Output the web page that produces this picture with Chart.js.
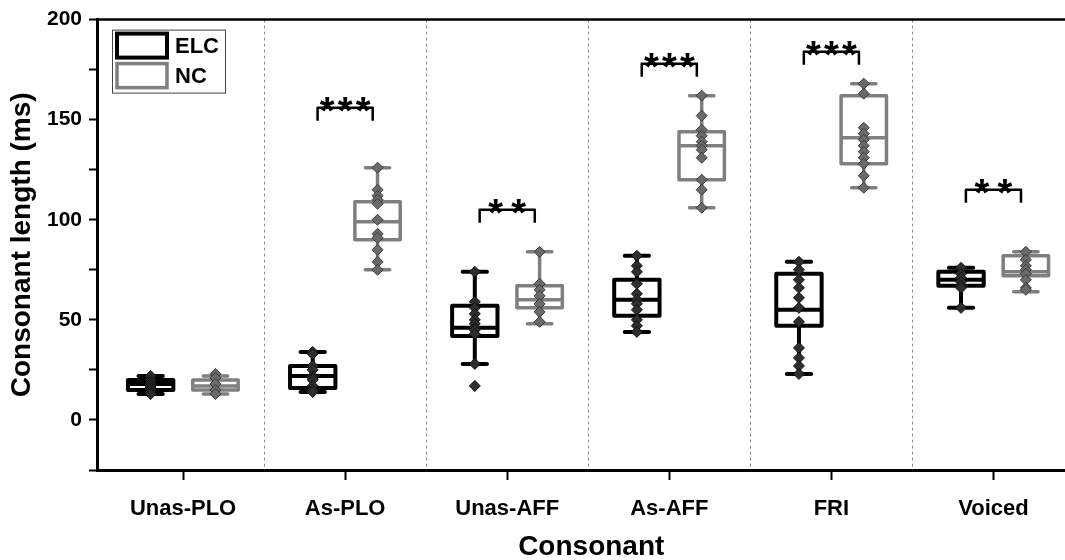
<!DOCTYPE html>
<html>
<head>
<meta charset="utf-8">
<script src="https://cdn.jsdelivr.net/npm/chart.js@4.4.0/dist/chart.umd.min.js"></script>
<style>
  html, body { margin: 0; padding: 0; background: #fff; overflow: hidden; }
  #wrap { width: 1065px; height: 560px; position: relative; overflow: hidden; }
  #chart { display: block; }
</style>
</head>
<body>
<div id="wrap"><canvas id="chart" width="1092" height="565"></canvas></div>
<script>
// categories and box statistics (ms)
const categories = ['Unas-PLO', 'As-PLO', 'Unas-AFF', 'As-AFF', 'FRI', 'Voiced'];

const elcMin = [13, 14, 28, 44, 23, 56];
const elcQ1  = [15, 16, 42, 52, 47, 67];
const elcMed = [18, 22, 46, 60, 55, 70];
const elcQ3  = [20, 27, 57, 70, 73, 74];
const elcMax = [22, 34, 74, 82, 79, 76];

const ncMin = [13, 75, 48, 106, 116, 64];
const ncQ1  = [15, 90, 56, 120, 128, 72];
const ncMed = [17, 99, 60, 137, 141, 74];
const ncQ3  = [20, 109, 67, 144, 162, 82];
const ncMax = [22, 126, 84, 162, 168, 84];

// individual speakers
const elcPoints = [
    [22, 20, 19, 18, 17, 16, 15, 14, 13],
    [34, 33, 27, 25, 22, 21, 20, 17, 15, 14],
    [74, 59, 56, 53, 50, 48, 46, 45, 43, 28, 17],
    [82, 77, 74, 68, 63, 60, 58, 55, 50, 47, 44],
    [79, 75, 70, 66, 61, 56, 49, 36, 31, 27, 23],
    [76, 73, 71, 69, 67, 66, 56]
];
const ncPoints = [
    [23, 21, 18, 15, 13],
    [126, 115, 112, 110, 108, 100, 93, 91, 85, 79, 75],
    [84, 68, 65, 62, 58, 54, 49],
    [162, 152, 145, 142, 139, 137, 135, 131, 120, 115, 106],
    [168, 163, 146, 143, 140, 137, 134, 131, 128, 122, 116],
    [84, 80, 77, 75, 73, 70, 66, 65]
];

// significance brackets: category, bracket top, number of stars
const sigCat   = [1, 2, 3, 4, 5];
const sigY     = [156, 105, 178, 184, 115];
const sigStars = [3, 2, 3, 3, 2];

const ELC_X = -0.2, NC_X = 0.2;
const ELC_COLOR = '#000000', NC_COLOR = '#7f7f7f';

function toPoints(groups, off) {
    let out = [];
    groups.forEach(function(vals, i) {
        vals.forEach(function(v) { out.push({ x: i + off, y: v }); });
    });
    return out;
}

const boxPlugin = {
    id: 'boxPlugin',
    beforeDatasetsDraw: function(chart) {
        const ctx = chart.ctx, xs = chart.scales.x, ys = chart.scales.y;
        const area = chart.chartArea;
        ctx.save();
        // dashed separators
        ctx.strokeStyle = '#8c8c8c';
        ctx.lineWidth = 1;
        ctx.setLineDash([3, 3]);
        for (let i = 0; i < categories.length - 1; i++) {
            const px = Math.round(xs.getPixelForValue(i + 0.5)) + 0.5;
            ctx.beginPath();
            ctx.moveTo(px, area.top);
            ctx.lineTo(px, area.bottom);
            ctx.stroke();
        }
        ctx.setLineDash([]);
        // top frame
        ctx.strokeStyle = '#000';
        ctx.lineWidth = 2.5;
        ctx.beginPath();
        ctx.moveTo(area.left, area.top);
        ctx.lineTo(chart.width, area.top);
        ctx.stroke();

        function drawBox(i, off, mn, q1, md, q3, mx, color, lw) {
            const cx = xs.getPixelForValue(i + off);
            const hw = xs.getPixelForValue(0.14) - xs.getPixelForValue(0);
            const cw = xs.getPixelForValue(0.075) - xs.getPixelForValue(0);
            ctx.strokeStyle = color;
            ctx.lineWidth = lw;
            ctx.lineCap = 'round';
            ctx.lineJoin = 'round';
            // whiskers
            ctx.beginPath();
            ctx.moveTo(cx, ys.getPixelForValue(mx));
            ctx.lineTo(cx, ys.getPixelForValue(q3));
            ctx.moveTo(cx, ys.getPixelForValue(q1));
            ctx.lineTo(cx, ys.getPixelForValue(mn));
            ctx.moveTo(cx - cw, ys.getPixelForValue(mx));
            ctx.lineTo(cx + cw, ys.getPixelForValue(mx));
            ctx.moveTo(cx - cw, ys.getPixelForValue(mn));
            ctx.lineTo(cx + cw, ys.getPixelForValue(mn));
            ctx.stroke();
            // box
            const top = ys.getPixelForValue(q3), bot = ys.getPixelForValue(q1);
            ctx.beginPath();
            ctx.rect(cx - hw, top, hw * 2, bot - top);
            ctx.moveTo(cx - hw, ys.getPixelForValue(md));
            ctx.lineTo(cx + hw, ys.getPixelForValue(md));
            ctx.stroke();
        }
        for (let i = 0; i < categories.length; i++) {
            drawBox(i, ELC_X, elcMin[i], elcQ1[i], elcMed[i], elcQ3[i], elcMax[i], ELC_COLOR, 4);
            drawBox(i, NC_X, ncMin[i], ncQ1[i], ncMed[i], ncQ3[i], ncMax[i], NC_COLOR, 3.5);
        }

        // significance brackets
        ctx.strokeStyle = '#000';
        ctx.fillStyle = '#000';
        ctx.lineWidth = 2.5;
        ctx.lineCap = 'butt';
        ctx.font = 'bold 38px "Liberation Sans", Arial';
        ctx.textAlign = 'center';
        ctx.textBaseline = 'alphabetic';
        for (let k = 0; k < sigCat.length; k++) {
            const x1 = xs.getPixelForValue(sigCat[k] - 0.17);
            const x2 = xs.getPixelForValue(sigCat[k] + 0.17);
            const y = ys.getPixelForValue(sigY[k]);
            ctx.beginPath();
            ctx.moveTo(x1, y + 13);
            ctx.lineTo(x1, y);
            ctx.lineTo(x2, y);
            ctx.lineTo(x2, y + 13);
            ctx.stroke();
            const mid = (x1 + x2) / 2;
            const n = sigStars[k];
            const gap = n === 3 ? 18 : 23;
            for (let s = 0; s < n; s++) {
                const sx = mid + (s - (n - 1) / 2) * gap;
                ctx.fillText('*', sx, y + 16);
            }
        }
        ctx.restore();
    },
    afterDraw: function(chart) {
        const ctx = chart.ctx, area = chart.chartArea;
        ctx.save();
        const lx = area.left + 15, ly = area.top + 10;
        ctx.strokeStyle = '#444';
        ctx.lineWidth = 1;
        ctx.strokeRect(lx + 0.5, ly + 0.5, 113, 63);
        ctx.lineWidth = 4;
        ctx.strokeStyle = ELC_COLOR;
        ctx.strokeRect(lx + 5, ly + 4, 50, 24);
        ctx.lineWidth = 3.5;
        ctx.strokeStyle = NC_COLOR;
        ctx.strokeRect(lx + 5, ly + 34, 50, 24);
        ctx.fillStyle = '#000';
        ctx.font = 'bold 22px "Liberation Sans", Arial';
        ctx.textAlign = 'left';
        ctx.textBaseline = 'middle';
        ctx.fillText('ELC', lx + 63, ly + 17);
        ctx.fillText('NC', lx + 63, ly + 47);
        ctx.restore();
    }
};

Chart.defaults.font.family = '"Liberation Sans", Arial, sans-serif';
Chart.defaults.font.weight = 'bold';
Chart.defaults.color = '#000';

const config = {
    type: 'scatter',
    data: {
        datasets: [
            {
                label: 'ELC',
                data: toPoints(elcPoints, ELC_X),
                pointStyle: 'rectRot',
                pointRadius: 5.5,
                backgroundColor: '#2e2e2e',
                borderColor: '#111',
                borderWidth: 1
            },
            {
                label: 'NC',
                data: toPoints(ncPoints, NC_X),
                pointStyle: 'rectRot',
                pointRadius: 5.5,
                backgroundColor: '#6a6a6a',
                borderColor: '#3c3c3c',
                borderWidth: 1
            }
        ]
    },
    options: {
        responsive: false,
        animation: false,
        layout: { padding: { top: 19, right: 0, left: 0, bottom: 0 } },
        plugins: {
            legend: { display: false },
            tooltip: { enabled: false }
        },
        scales: {
            x: {
                type: 'linear',
                min: -0.531,
                max: 5.568,
                afterBuildTicks: function(scale) {
                    scale.ticks = categories.map(function(c, i) { return { value: i }; });
                },
                afterFit: function(scale) { scale.height = 95; },
                ticks: {
                    callback: function(v) { return categories[v]; },
                    font: { size: 22, weight: 'bold' },
                    padding: 16,
                    maxRotation: 0
                },
                grid: {
                    drawOnChartArea: false,
                    drawTicks: true,
                    tickLength: 10,
                    tickColor: '#000',
                    tickWidth: 2
                },
                border: { color: '#000', width: 3 },
                title: {
                    display: true,
                    text: 'Consonant',
                    font: { size: 28, weight: 'bold' },
                    padding: { top: 0, bottom: 1 }
                }
            },
            y: {
                min: -25,
                max: 200,
                afterBuildTicks: function(scale) {
                    let t = [];
                    for (let v = -25; v <= 200; v += 25) t.push({ value: v });
                    scale.ticks = t;
                },
                afterFit: function(scale) { scale.width = 97; },
                ticks: {
                    callback: function(v) { return v % 50 === 0 ? String(v) : ''; },
                    font: { size: 21, weight: 'bold' },
                    padding: 7
                },
                grid: {
                    drawOnChartArea: false,
                    drawTicks: true,
                    tickLength: 8,
                    tickColor: '#000',
                    tickWidth: 2
                },
                border: { color: '#000', width: 3 },
                title: {
                    display: true,
                    text: 'Consonant length (ms)',
                    font: { size: 28, weight: 'bold' },
                    padding: { top: 5, bottom: 0 }
                }
            }
        }
    },
    plugins: [boxPlugin]
};

const ctx = document.getElementById('chart').getContext('2d');
new Chart(ctx, config);
</script>
</body>
</html>
